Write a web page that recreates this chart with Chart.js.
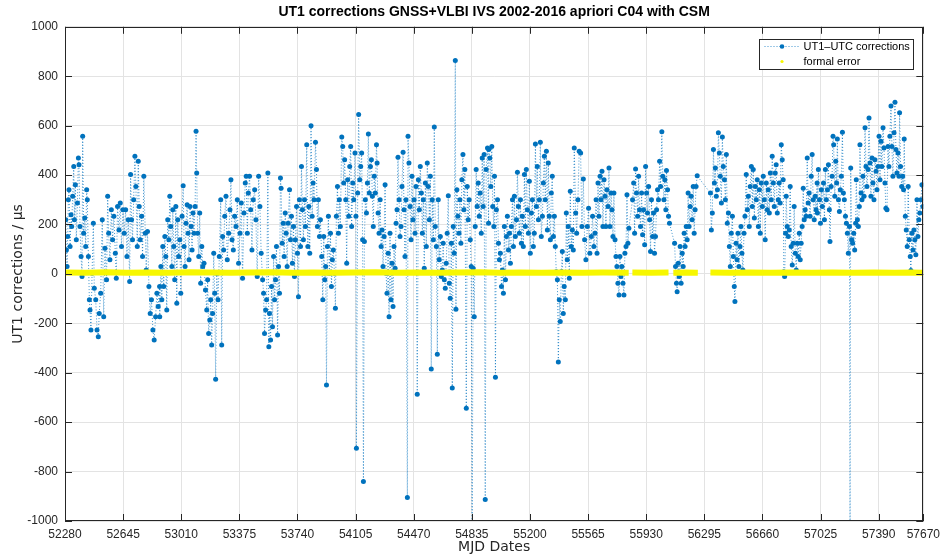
<!DOCTYPE html>
<html>
<head>
<meta charset="utf-8">
<script src="https://cdn.jsdelivr.net/npm/chart.js@4.4.1/dist/chart.umd.min.js"></script>
<style>
  html, body { margin: 0; padding: 0; background: #fff; }
  #wrap { width: 946px; height: 555px; }
</style>
</head>
<body>
<div id="wrap"><canvas id="ut1Chart" width="946" height="555"></canvas></div>
<script>
/* =========================
   DATA (MJD, microseconds)
========================= */
const chartTitle = "UT1 corrections GNSS+VLBI IVS 2002-2016 apriori C04 with CSM";
const seriesNames = ["UT1\u2013UTC corrections", "formal error"];

const xTicks = [52280, 52645, 53010, 53375, 53740, 54105, 54470, 54835, 55200, 55565, 55930, 56295, 56660, 57025, 57390, 57670];
const yTicks = [-1000, -800, -600, -400, -200, 0, 200, 400, 600, 800, 1000];

const ut1Points = [
  [52285,219],[52289,97],[52293,30],[52297,151],[52301,300],[52305,341],[52312,111],[52318,239],[52322,192],[52328,314],
  [52335,435],[52339,219],[52345,361],[52351,138],[52358,287],[52364,469],[52368,442],[52374,192],[52381,70],[52387,-11],
  [52391,557],[52397,165],[52404,226],[52410,111],[52416,341],[52420,300],[52427,70],[52433,-105],[52437,-146],[52443,-227],
  [52450,3],[52458,205],[52464,-58],[52473,-105],[52481,-227],[52489,-254],[52495,-160],[52504,-78],[52514,219],[52523,-173],
  [52531,104],[52541,-24],[52548,314],[52554,165],[52562,57],[52571,260],[52579,138],[52587,233],[52596,84],[52602,-18],
  [52610,273],[52619,178],[52627,287],[52635,111],[52644,260],[52652,165],[52661,260],[52669,70],[52677,219],[52686,-31],
  [52692,402],[52698,219],[52704,138],[52711,300],[52719,476],[52725,354],[52734,111],[52740,456],[52746,273],[52752,138],
  [52761,233],[52767,70],[52775,395],[52784,165],[52790,16],[52798,172],[52807,-51],[52815,-160],[52823,-105],[52832,-227],
  [52840,-268],[52849,-173],[52857,-78],[52865,-132],[52874,-51],
  [52875,-173],[52882,30],[52888,-105],[52894,111],[52900,-51],[52907,151],[52913,70],[52919,-146],[52925,219],[52932,138],
  [52938,314],[52944,192],[52951,30],[52957,260],[52963,111],[52969,-24],[52976,273],[52982,-119],[52988,219],[52994,70],
  [53001,138],[53007,-78],[53015,233],[53022,357],[53028,111],[53034,30],[53040,205],[53047,280],[53053,165],[53059,57],
  [53065,273],[53072,192],[53078,97],[53084,246],[53090,165],[53097,273],[53103,577],[53107,408],[53113,165],[53120,70],
  [53126,246],[53132,-38],[53139,111],[53145,30],[53153,43],[53162,-65],[53170,-146],[53176,-24],[53182,-241],[53189,-187],
  [53195,-105],[53201,-288],[53207,-160],[53214,84],[53220,-78],[53226,-426],[53233,3],[53241,-105],[53249,70],[53258,300],
  [53264,-288],[53270,151],[53276,97],[53283,233],[53291,314],[53299,57],[53308,165],[53316,260],[53322,381],[53329,138],
  [53337,97],[53345,233],[53354,192],[53362,300],[53370,43],[53379,165],[53387,287],[53395,-18],[53404,246],[53412,368],
  [53418,395],[53425,165],[53431,327],[53439,395],[53446,260],[53454,97],[53462,300],[53471,341],[53479,219],[53487,-11],
  [53496,395],[53504,273],[53512,84],[53521,-24],[53527,-78],[53533,-241],[53540,-146],[53546,-105],[53554,408],[53560,-295],
  [53564,-160],[53571,-268],[53577,-51],[53583,-214],[53590,70],[53596,-105],[53602,-24],[53608,111],[53615,-247],[53621,30],
  [53627,-78],[53633,388],[53637,347],[53644,124],[53650,205],[53656,70],[53663,246],[53669,165],[53675,30],[53681,205],
  [53690,341],[53696,138],[53702,233],[53708,43],[53715,192],[53721,-11],[53727,138],[53734,273],[53740,84],[53746,-92],
  [53752,300],[53759,111],[53765,435],[53771,260],[53777,138],[53784,300],[53790,192],[53798,523],[53805,111],[53811,273],
  [53817,84],[53825,600],[53832,233],[53838,368],[53844,300],[53853,533],[53859,422],[53865,192],[53871,300],[53878,151],
  [53884,219],[53892,70],[53899,-105],[53905,151],[53911,-24],[53917,30],[53922,-450],[53928,111],[53934,233],[53940,3],
  [53947,165],[53953,-51],[53959,57],[53965,97],[53972,3],[53978,-139],[53984,233],[53991,354],[53997,165],[54003,300],
  [54009,192],[54018,554],[54024,516],[54030,368],[54036,462],[54043,300],[54049,43],[54055,381],[54062,233],[54068,435],
  [54074,516],[54080,192],[54087,368],[54093,300],[54101,489],[54107,233],[54110,-706],[54118,327],[54124,645],[54131,381],
  [54137,435],[54143,489],[54149,138],[54154,-840],[54160,131],[54166,300],[54173,246],[54179,368],[54185,566],[54191,327],
  [54198,435],[54204,462],[54210,314],[54216,192],[54222,395],
  [54229,327],[54236,523],[54240,449],[54246,246],[54252,165],[54259,300],[54265,111],[54271,178],[54277,30],[54284,151],
  [54290,361],[54296,3],[54302,-78],[54309,84],[54315,-173],[54321,165],[54327,-105],[54334,43],[54340,-132],[54346,111],
  [54353,23],[54359,205],[54365,260],[54371,472],[54378,300],[54384,151],[54390,192],[54396,354],[54403,492],[54409,260],
  [54415,70],[54421,300],[54430,-905],[54434,557],[54440,449],[54447,273],[54453,138],[54459,395],[54465,219],[54472,300],
  [54478,165],[54484,354],[54492,-487],[54499,381],[54505,260],[54511,435],[54518,327],[54524,165],[54530,300],[54536,23],
  [54543,368],[54549,111],[54555,449],[54561,354],[54568,219],[54574,395],[54580,-385],[54586,300],[54593,138],[54599,594],
  [54605,192],[54612,111],[54618,-325],[54624,300],[54630,57],[54637,151],[54643,-11],[54649,16],[54655,124],[54662,-24],
  [54668,-58],[54674,43],[54680,165],[54687,316],[54693,-38],[54699,-99],[54706,124],[54712,-462],[54718,192],[54724,84],
  [54731,864],[54735,-143],[54741,341],[54747,233],[54754,165],[54760,300],[54766,124],[54772,381],[54779,483],[54785,260],
  [54791,422],[54800,-544],[54806,354],[54812,219],[54818,300],[54825,138],[54831,30],[54837,-1100],[54843,23],[54850,-173],
  [54856,192],[54862,422],[54868,273],[54875,368],[54881,233],[54887,327],[54894,165],[54900,469],[54906,273],[54912,483],
  [54919,-913],[54925,422],[54933,510],[54940,205],
  [54941,503],[54948,469],[54954,354],[54960,516],[54966,273],[54973,192],[54977,395],[54983,-418],[54989,260],[54996,300],
  [55002,124],[55008,57],[55014,84],[55021,-51],[55027,16],[55033,-78],[55039,192],[55046,-24],[55052,151],[55058,233],
  [55065,97],[55071,165],[55077,43],[55083,192],[55090,300],[55096,111],[55102,314],[55108,151],[55115,219],[55121,411],
  [55127,273],[55133,165],[55140,300],[55146,124],[55152,233],[55158,111],[55165,402],[55171,192],[55177,422],[55184,260],
  [55190,165],[55196,375],[55202,84],[55209,246],[55215,300],[55221,111],[55227,165],[55234,526],[55240,273],[55246,435],
  [55253,219],[55259,300],[55265,533],[55271,151],[55278,233],[55284,368],[55290,476],[55296,300],[55303,496],[55309,178],
  [55315,449],[55321,233],[55328,138],[55334,327],[55340,395],[55347,151],[55353,233],[55359,111],[55365,9],[55372,-24],
  [55378,-357],[55384,-105],[55390,-193],[55397,9],[55403,91],[55409,-160],[55415,-51],[55422,-105],[55428,246],[55434,57],
  [55440,192],[55447,-18],[55453,334],[55459,111],[55466,178],[55472,97],[55478,510],[55487,246],[55493,165],[55501,300],
  [55509,496],[55518,489],[55526,192],[55535,384],[55543,138],[55551,57],[55560,192],[55568,266],[55576,84],[55585,151],
  [55593,233],[55601,111],
  [55608,165],[55615,300],[55621,84],[55627,368],[55633,233],[55640,395],[55646,300],[55652,415],[55658,192],[55665,381],
  [55671,314],[55677,192],[55683,341],[55690,273],[55696,429],[55702,192],[55709,327],[55715,260],[55721,151],[55727,327],
  [55734,138],[55740,70],[55746,30],[55752,-38],[55759,-85],[55765,70],[55771,-11],[55777,30],[55784,-38],[55790,-85],
  [55796,84],[55803,111],[55809,320],[55815,124],[55821,185],[55844,300],[55851,368],[55857,165],[55863,425],[55869,327],
  [55876,233],[55882,395],[55888,260],[55894,192],[55901,327],[55907,158],[55913,260],[55920,118],[55926,435],[55932,327],
  [55938,246],[55945,354],[55951,219],[55957,91],[55963,300],[55970,151],[55976,246],[55982,84],[55988,151],[55995,260],
  [56001,341],[56007,300],[56014,456],[56020,354],[56028,575],[56034,395],[56041,300],[56047,381],[56053,260],[56057,418],
  [56064,341],[56070,233],[56076,205],[56108,124],[56114,30],[56120,-38],[56124,-72],[56131,43],[56137,-11],[56143,111],
  [56149,-38],[56156,84],[56162,30],[56168,165],[56174,111],[56181,192],[56187,138],[56193,327],[56199,192],[56206,273],
  [56212,314],[56218,219],[56225,354],[56231,165],[56237,260],[56243,354],[56250,397],
  [56333,327],[56339,178],[56345,246],[56352,503],[56358,368],[56364,429],[56370,314],[56377,341],[56383,571],[56389,489],
  [56395,395],[56402,287],[56408,554],[56414,435],[56421,381],[56427,300],[56433,483],[56439,205],[56446,246],[56452,111],
  [56458,30],[56464,165],[56471,233],[56477,70],[56483,-51],[56487,-112],[56494,124],[56500,57],[56506,165],[56512,30],
  [56519,111],[56525,192],[56531,84],[56537,16],[56544,165],[56550,233],[56558,402],[56565,260],[56571,314],[56577,192],
  [56583,354],[56590,435],[56596,273],[56602,422],[56609,226],[56615,354],[56621,300],[56627,381],[56634,192],[56640,341],
  [56646,165],[56652,368],[56659,273],[56665,395],[56671,300],[56677,138],[56684,368],[56690,260],[56696,341],[56703,246],
  [56709,408],[56715,300],[56721,476],[56728,368],[56734,273],[56740,408],[56746,442],[56753,246],[56759,300],[56765,368],
  [56771,287],[56778,523],[56784,462],[56790,381],[56794,9],[56799,-11],[56805,165],[56809,314],[56815,192],[56822,151],
  [56828,178],[56834,354],[56840,111],[56847,36],[56853,124],[56859,273],[56866,84],[56872,16],[56878,124],[56884,70],
  [56891,165],[56897,57],[56903,124],[56909,192],[56916,347],[56922,219],[56928,260],[56934,233],[56941,469],[56947,287],
  [56953,327],[56959,233],[56966,395],[56972,483],[56978,300],[56985,219],[56991,314],[56997,260],[57003,368],
  [57005,246],[57011,422],[57018,300],[57024,205],[57030,341],[57036,273],[57043,368],[57049,219],[57055,422],[57061,300],
  [57068,341],[57074,442],[57080,260],[57084,131],[57091,354],[57097,395],[57103,557],[57107,523],[57114,314],[57120,456],
  [57126,368],[57130,546],[57137,300],[57143,253],[57149,341],[57155,395],[57162,573],[57168,327],[57174,300],[57181,233],
  [57187,205],[57193,165],[57199,84],[57206,192],[57210,-1200],[57214,429],[57220,138],[57226,124],[57233,165],[57239,97],
  [57245,205],[57249,381],[57256,219],[57262,192],[57268,273],[57272,523],[57279,327],[57285,300],[57291,395],[57298,314],
  [57304,591],[57310,435],[57316,354],[57323,422],[57329,631],[57335,449],[57341,314],[57348,469],[57354,368],[57360,300],
  [57366,462],[57373,415],[57379,341],[57385,435],[57392,557],[57398,381],[57404,537],[57410,435],[57417,591],[57423,510],
  [57429,368],[57435,266],[57442,260],[57448,516],[57454,435],[57460,557],[57467,679],[57473,516],[57479,395],[57486,571],
  [57492,695],[57498,503],[57504,408],[57511,489],[57517,395],[57521,652],[57527,435],[57534,354],[57540,395],[57546,341],
  [57550,546],[57557,233],[57563,178],[57569,111],[57575,354],[57582,138],[57588,70],[57592,14],[57598,165],[57605,97],
  [57611,178],[57617,138],[57623,77],[57630,300],[57636,151],[57642,219],[57648,246],[57655,300],[57661,361],[57667,273]
];

const errPoints = [
  [52280,6],[52410,5],[52540,7],[52670,5],[52800,6],[52930,5],[53060,7],[53190,6],[53320,5],[53450,6],
  [53580,7],[53710,5],[53840,6],[53970,5],[54100,6],[54230,7],[54360,5],[54490,6],[54620,5],[54750,6],
  [54880,7],[55010,5],[55140,6],[55270,5],[55400,6],[55530,5],[55660,6],[55820,5],[55831,null],[55843,6],
  [55960,5],[56070,6],[56085,null],[56100,5],[56180,6],[56254,5],[56290,null],[56333,6],[56450,5],[56580,6],
  [56710,5],[56840,6],[56970,5],[57100,6],[57230,5],[57360,6],[57490,5],[57600,6],[57670,5]
];

/* =========================
   STYLE
========================= */
const BLUE = "#0072BD";
const YELLOW = "#f7f700";
const AXIS = "#262626";
const FONT = "'Liberation Sans', Arial, sans-serif";
const LABEL_FONT = "'DejaVu Sans', Verdana, sans-serif";

/* =========================
   PLUGIN: MATLAB BOX + TICKS
========================= */
const matlabFrame = {
    id: "matlabFrame",
    afterDatasetsDraw(chart) {
        const { ctx, chartArea: a, scales: { x, y } } = chart;
        const len = 7;
        ctx.save();
        ctx.strokeStyle = AXIS;
        ctx.lineWidth = 1;
        ctx.beginPath();
        x.ticks.forEach(t => {
            const px = Math.round(x.getPixelForValue(t.value)) + 0.5;
            ctx.moveTo(px, a.bottom); ctx.lineTo(px, a.bottom - len);
            ctx.moveTo(px, a.top); ctx.lineTo(px, a.top + len);
        });
        y.ticks.forEach(t => {
            const py = Math.round(y.getPixelForValue(t.value)) + 0.5;
            ctx.moveTo(a.left, py); ctx.lineTo(a.left + len, py);
            ctx.moveTo(a.right, py); ctx.lineTo(a.right - len, py);
        });
        ctx.stroke();
        ctx.strokeRect(Math.round(a.left) + 0.5, Math.round(a.top) + 0.5,
                       Math.round(a.width) - 1, Math.round(a.height) - 1);
        ctx.restore();
    }
};

/* =========================
   PLUGIN: BOXED LEGEND
========================= */
const boxLegend = {
    id: "boxLegend",
    afterDraw(chart) {
        const { ctx, chartArea: a } = chart;
        const w = 154, h = 30;
        const x0 = Math.round(a.right - 10 - w) + 0.5;
        const y0 = Math.round(a.top + 12) + 0.5;
        ctx.save();
        ctx.fillStyle = "#fff";
        ctx.fillRect(x0, y0, w, h);
        ctx.strokeStyle = AXIS;
        ctx.lineWidth = 1;
        ctx.strokeRect(x0, y0, w, h);
        ctx.font = "11px " + FONT;
        ctx.textBaseline = "middle";

        chart.data.datasets.forEach((ds, i) => {
            const cy = y0 + 7 + i * 15;
            const sx = x0 + 5, ex = x0 + 40, mx = (sx + ex) / 2;
            if (i === 0) {
                ctx.strokeStyle = ds.borderColor;
                ctx.setLineDash([1, 2]);
                ctx.beginPath();
                ctx.moveTo(sx, cy); ctx.lineTo(ex, cy);
                ctx.stroke();
                ctx.setLineDash([]);
                ctx.fillStyle = ds.pointBackgroundColor;
                ctx.beginPath();
                ctx.arc(mx, cy, 2.3, 0, Math.PI * 2);
                ctx.fill();
            } else {
                ctx.fillStyle = ds.borderColor;
                ctx.beginPath();
                ctx.arc(mx, cy, 1.6, 0, Math.PI * 2);
                ctx.fill();
            }
            ctx.fillStyle = "#000";
            ctx.fillText(ds.label, x0 + 44, cy);
        });
        ctx.restore();
    }
};

/* =========================
   CHART
========================= */
const ctx = document.getElementById("ut1Chart").getContext("2d");

new Chart(ctx, {
    type: "line",
    data: {
        datasets: [{
            label: seriesNames[0],
            data: ut1Points.map(([x, y]) => ({ x, y })),
            borderColor: "rgba(0,114,189,0.75)",
            borderWidth: 1,
            borderDash: [1, 2],
            pointRadius: 2.5,
            pointBorderWidth: 0,
            pointBackgroundColor: BLUE,
            tension: 0,
            order: 1
        }, {
            label: seriesNames[1],
            data: errPoints.map(([x, y]) => ({ x, y })),
            borderColor: YELLOW,
            borderWidth: 6,
            borderCapStyle: "butt",
            pointRadius: 0,
            spanGaps: false,
            tension: 0,
            order: 0
        }]
    },
    options: {
        responsive: false,
        devicePixelRatio: 1,
        animation: false,
        events: [],
        layout: { padding: { left: 0, right: 21, top: 0, bottom: 0 } },
        plugins: {
            legend: { display: false },
            tooltip: { enabled: false },
            title: {
                display: true,
                text: chartTitle,
                fullSize: false,
                color: "#000",
                font: { family: FONT, size: 14, weight: "bold" },
                padding: { top: 4, bottom: 6 }
            }
        },
        scales: {
            x: {
                type: "linear",
                min: xTicks[0],
                max: xTicks[xTicks.length - 1],
                afterBuildTicks: s => { s.ticks = xTicks.map(v => ({ value: v })); },
                afterFit: s => { s.height = 34; },
                border: { display: false },
                grid: { color: "#e3e3e3", drawTicks: false },
                ticks: {
                    color: AXIS, padding: 6, maxRotation: 0, autoSkip: false,
                    font: { family: FONT, size: 12 },
                    callback: v => String(v)
                },
                title: {
                    display: true, text: "MJD Dates", color: AXIS,
                    font: { family: LABEL_FONT, size: 14 },
                    padding: { top: 0, bottom: -1 }
                }
            },
            y: {
                min: yTicks[0],
                max: yTicks[yTicks.length - 1],
                afterBuildTicks: s => { s.ticks = yTicks.map(v => ({ value: v })); },
                afterFit: s => { s.width = 65; },
                border: { display: false },
                grid: { color: "#e3e3e3", drawTicks: false },
                ticks: {
                    color: AXIS, padding: 7,
                    font: { family: FONT, size: 12 },
                    callback: v => String(v)
                },
                title: {
                    display: true, text: "UT1 corrections / \u00B5s", color: AXIS,
                    font: { family: LABEL_FONT, size: 14 },
                    padding: { top: 10, bottom: 0 }
                }
            }
        }
    },
    plugins: [matlabFrame, boxLegend]
});
</script>
</body>
</html>
